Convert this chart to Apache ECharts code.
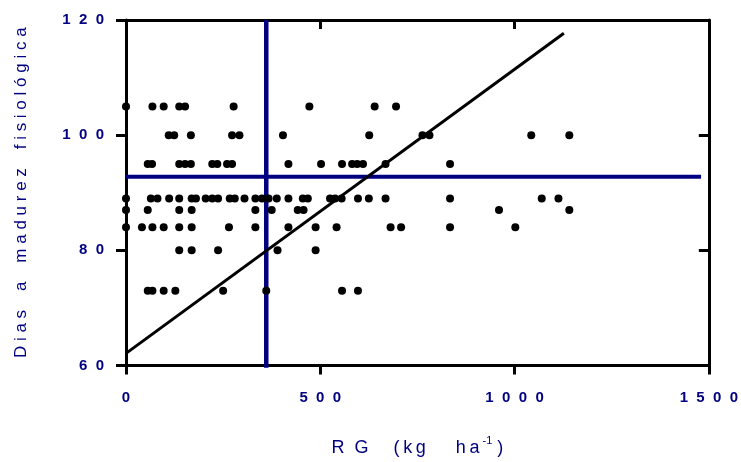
<!DOCTYPE html>
<html>
<head>
<meta charset="utf-8">
<script src="https://cdn.jsdelivr.net/npm/echarts@6/dist/echarts.min.js"></script>
<style>html,body{margin:0;padding:0;background:#fff;}#c{width:741px;height:462px;}</style>
</head>
<body>
<div id="c"></div>
<script>
// Data: RG (kg/ha) values grouped by days to maturity
const row105 = [0, 68, 97, 137, 152, 277, 472, 640, 695];
const row100 = [110, 124, 167, 273, 292, 404, 626, 763, 781, 1043, 1141];
const row95 = [56, 67, 137, 152, 167, 222, 235, 260, 273, 418, 502, 556, 582, 595, 610, 668, 834];
const row89 = [0, 64, 81, 111, 137, 169, 180, 205, 222, 237, 267, 280, 305, 333, 350, 367, 388, 418, 455, 468, 525, 538, 555, 597, 625, 668, 834, 1070, 1113];
const row87 = [0, 56, 137, 169, 333, 375, 442, 457, 960, 1141];
const row84 = [0, 41, 68, 97, 137, 169, 265, 333, 418, 488, 542, 681, 708, 834, 1002];
const row80 = [137, 169, 237, 390, 488];
const row73 = [56, 68, 97, 127, 250, 361, 556, 597];
const rowLevels = [105, 100, 95, 89, 87, 84, 80, 73];
const rows = [row105, row100, row95, row89, row87, row84, row80, row73];

const regressionLine = [[0, 62.1], [1127, 117.7]];
const meanDays = 92.8;       // horizontal reference line
const meanDaysXEnd = 1480;
const meanRG = 361;          // vertical reference line

const xTicks = [0, 500, 1000, 1500];
const yTicks = [60, 80, 100, 120];

const navy = '#000080';
const font = "'Liberation Sans', Arial, sans-serif";

const points = [];
rows.forEach((r, i) => r.forEach(x => points.push([x, rowLevels[i]])));

const spaced = v => String(v).split('').join('  ');
const T = '\u2009';

const chart = echarts.init(document.getElementById('c'), null, {renderer: 'canvas'});
chart.setOption({
  animation: false,
  backgroundColor: '#fff',
  grid: {left: 126, right: 27, top: 20, bottom: 89, containLabel: false},
  xAxis: [{
    type: 'value', min: xTicks[0], max: xTicks[xTicks.length - 1], interval: 500,
    position: 'bottom',
    axisLine: {show: true, onZero: false, lineStyle: {color: '#000', width: 3}},
    axisTick: {show: true, inside: false, length: 9, lineStyle: {color: '#000', width: 3}},
    splitLine: {show: false},
    axisLabel: {margin: 25, color: navy, fontFamily: font, fontWeight: 'bold', fontSize: 15,
      formatter: v => spaced(v)},
    name: '{a|R  G     (' + T + 'k' + T + 'g      h' + T + 'a}{sup| -1}{a| )}',
    nameLocation: 'middle', nameGap: 70,
    nameTextStyle: {rich: {
      a: {color: navy, fontFamily: font, fontSize: 18},
      sup: {color: navy, fontFamily: font, fontSize: 11, padding: [0, 0, 14, 0]}
    }}
  }, {
    type: 'value', min: xTicks[0], max: xTicks[xTicks.length - 1], interval: 500,
    position: 'top',
    axisLine: {show: true, onZero: false, lineStyle: {color: '#000', width: 3}},
    axisTick: {show: true, inside: true, length: 9, lineStyle: {color: '#000', width: 3}},
    splitLine: {show: false},
    axisLabel: {show: false}
  }],
  yAxis: [{
    type: 'value', min: yTicks[0], max: yTicks[yTicks.length - 1], interval: 20,
    position: 'left',
    axisLine: {show: true, onZero: false, lineStyle: {color: '#000', width: 3}},
    axisTick: {show: true, inside: false, length: 10, lineStyle: {color: '#000', width: 3}},
    splitLine: {show: false},
    axisLabel: {margin: 22, color: navy, fontFamily: font, fontWeight: 'bold', fontSize: 15,
      formatter: v => spaced(v)},
    name: 'D i a s    a    m a d u r e z    f i s i o l ó g i c a',
    nameLocation: 'middle', nameGap: 96,
    nameTextStyle: {color: navy, fontFamily: font, fontSize: 17}
  }, {
    type: 'value', min: yTicks[0], max: yTicks[yTicks.length - 1], interval: 20,
    position: 'right',
    axisLine: {show: true, onZero: false, lineStyle: {color: '#000', width: 3}},
    axisTick: {show: true, inside: true, length: 10, lineStyle: {color: '#000', width: 3}},
    splitLine: {show: false},
    axisLabel: {show: false}
  }],
  series: [{
    type: 'line', data: [[0, meanDays], [meanDaysXEnd, meanDays]],
    xAxisIndex: 0, yAxisIndex: 0, symbol: 'none', silent: true, z: 1,
    lineStyle: {color: navy, width: 4}
  }, {
    type: 'line', data: [[meanRG, 59.6], [meanRG, 120]],
    xAxisIndex: 0, yAxisIndex: 0, symbol: 'none', silent: true, z: 1,
    clip: false,
    lineStyle: {color: navy, width: 4.5}
  }, {
    type: 'line', data: regressionLine,
    xAxisIndex: 0, yAxisIndex: 0, symbol: 'none', silent: true, z: 2,
    lineStyle: {color: '#000', width: 3}
  }, {
    type: 'scatter', data: points, xAxisIndex: 0, yAxisIndex: 0,
    symbol: 'circle', symbolSize: 8, z: 3, clip: false,
    itemStyle: {color: '#000', opacity: 1}
  }]
});
</script>
</body>
</html>
